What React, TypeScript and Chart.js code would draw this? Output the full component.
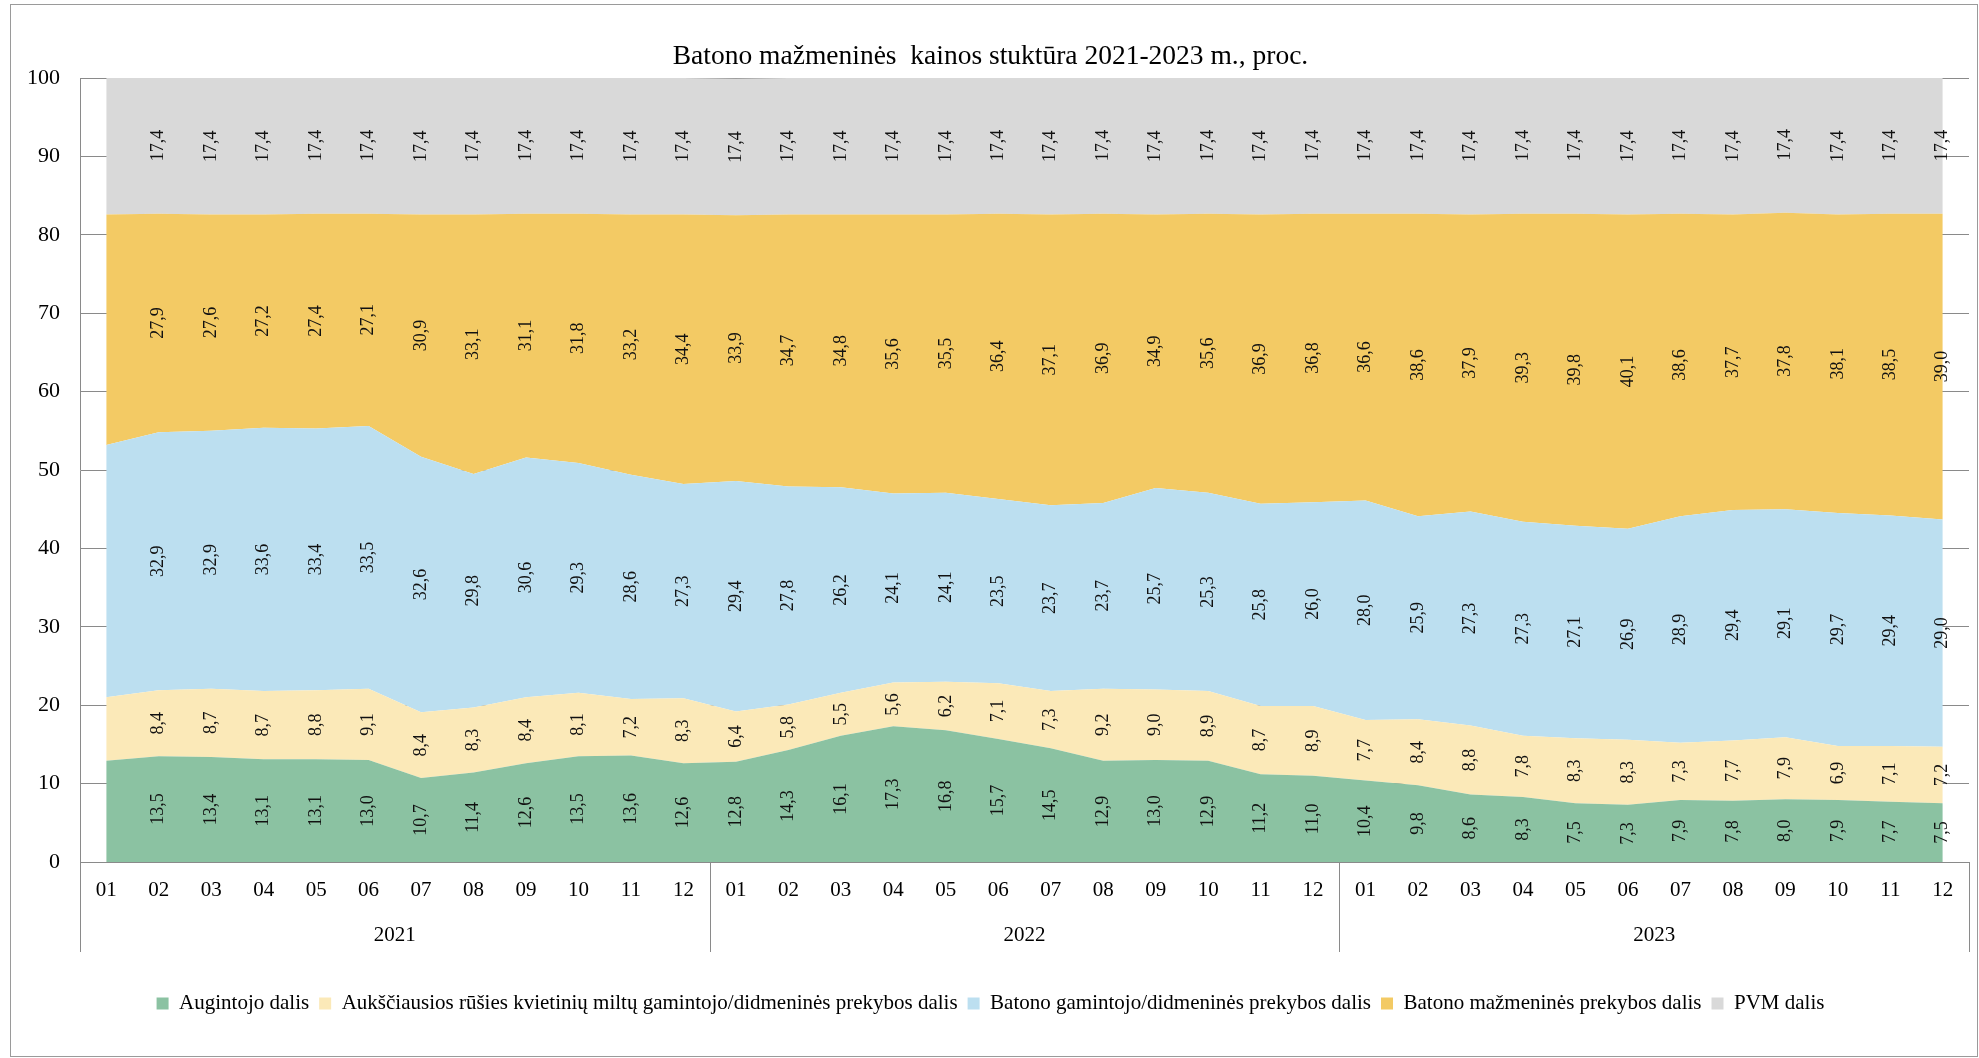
import React, { useEffect, useRef } from 'react';
import { Chart, registerables } from 'chart.js';

Chart.register(...registerables);

const months = [
  '01', '02', '03', '04', '05', '06', '07', '08', '09', '10', '11', '12',
  '01', '02', '03', '04', '05', '06', '07', '08', '09', '10', '11', '12',
  '01', '02', '03', '04', '05', '06', '07', '08', '09', '10', '11', '12',
];
const years = ['2021', '2022', '2023'];

const augintojo = [
  12.9, 13.5, 13.4, 13.1, 13.1, 13.0, 10.7, 11.4, 12.6, 13.5, 13.6, 12.6,
  12.8, 14.3, 16.1, 17.3, 16.8, 15.7, 14.5, 12.9, 13.0, 12.9, 11.2, 11.0,
  10.4, 9.8, 8.6, 8.3, 7.5, 7.3, 7.9, 7.8, 8.0, 7.9, 7.7, 7.5,
];
const miltu = [
  8.1, 8.4, 8.7, 8.7, 8.8, 9.1, 8.4, 8.3, 8.4, 8.1, 7.2, 8.3,
  6.4, 5.8, 5.5, 5.6, 6.2, 7.1, 7.3, 9.2, 9.0, 8.9, 8.7, 8.9,
  7.7, 8.4, 8.8, 7.8, 8.3, 8.3, 7.3, 7.7, 7.9, 6.9, 7.1, 7.2,
];
const gamintojo = [
  32.2, 32.9, 32.9, 33.6, 33.4, 33.5, 32.6, 29.8, 30.6, 29.3, 28.6, 27.3,
  29.4, 27.8, 26.2, 24.1, 24.1, 23.5, 23.7, 23.7, 25.7, 25.3, 25.8, 26.0,
  28.0, 25.9, 27.3, 27.3, 27.1, 26.9, 28.9, 29.4, 29.1, 29.7, 29.4, 29.0,
];
const mazmenines = [
  29.4, 27.9, 27.6, 27.2, 27.4, 27.1, 30.9, 33.1, 31.1, 31.8, 33.2, 34.4,
  33.9, 34.7, 34.8, 35.6, 35.5, 36.4, 37.1, 36.9, 34.9, 35.6, 36.9, 36.8,
  36.6, 38.6, 37.9, 39.3, 39.8, 40.1, 38.6, 37.7, 37.8, 38.1, 38.5, 39.0,
];
const pvm = [
  17.4, 17.4, 17.4, 17.4, 17.4, 17.4, 17.4, 17.4, 17.4, 17.4, 17.4, 17.4,
  17.4, 17.4, 17.4, 17.4, 17.4, 17.4, 17.4, 17.4, 17.4, 17.4, 17.4, 17.4,
  17.4, 17.4, 17.4, 17.4, 17.4, 17.4, 17.4, 17.4, 17.4, 17.4, 17.4, 17.4,
];
const yTicks = [0, 10, 20, 30, 40, 50, 60, 70, 80, 90, 100];

const seriesNames = [
  'Augintojo dalis',
  'Aukščiausios rūšies kvietinių miltų gamintojo/didmeninės prekybos dalis',
  'Batono gamintojo/didmeninės prekybos dalis',
  'Batono mažmeninės prekybos dalis',
  'PVM dalis',
];
const seriesColors = ['#8bc2a2', '#fbe9b8', '#bcdff0', '#f3ca64', '#d9d9d9'];
const TITLE = 'Batono mažmeninės  kainos stuktūra 2021-2023 m., proc.';

const FONT = "'Liberation Serif', 'Times New Roman', serif";
const AXIS_COLOR = '#8a8a8a';
const FIRST_LABELLED = 1;

const dataLabelsPlugin = {
  id: 'bandLabels',
  afterDatasetsDraw(chart: any) {
    const ctx = chart.ctx;
    const yScale = chart.scales.y;
    ctx.save();
    ctx.font = `18px ${FONT}`;
    ctx.fillStyle = '#111';
    ctx.textAlign = 'center';
    ctx.textBaseline = 'middle';
    chart.data.datasets.forEach((ds: any, di: number) => {
      const meta = chart.getDatasetMeta(di);
      const prev = di > 0 ? chart.getDatasetMeta(di - 1) : null;
      meta.data.forEach((pt: any, i: number) => {
        if (i < FIRST_LABELLED) return;
        const top = pt.y;
        const bottom = prev ? prev.data[i].y : yScale.getPixelForValue(0);
        const mid = (top + bottom) / 2;
        const txt = Number(ds.data[i]).toFixed(1).replace('.', ',');
        ctx.save();
        ctx.translate(pt.x, mid);
        ctx.rotate(-Math.PI / 2);
        ctx.fillText(txt, 0, 0);
        ctx.restore();
      });
    });
    ctx.restore();
  },
};

const yearAxisPlugin = {
  id: 'yearAxis',
  afterDraw(chart: any) {
    const ctx = chart.ctx;
    const xs = chart.scales.x;
    const area = chart.chartArea;
    const per = months.length / years.length;
    const step = xs.getPixelForValue(1) - xs.getPixelForValue(0);
    ctx.save();
    ctx.strokeStyle = AXIS_COLOR;
    ctx.lineWidth = 1;
    for (let g = 0; g <= years.length; g++) {
      const idx = Math.min(g * per, months.length - 1);
      const px = g * per < months.length
        ? xs.getPixelForValue(idx) - step / 2
        : xs.getPixelForValue(idx) + step / 2;
      const sx = Math.round(px) + 0.5;
      ctx.beginPath();
      ctx.moveTo(sx, area.bottom);
      ctx.lineTo(sx, area.bottom + 90);
      ctx.stroke();
    }
    ctx.font = `21px ${FONT}`;
    ctx.fillStyle = '#000';
    ctx.textAlign = 'center';
    ctx.textBaseline = 'middle';
    years.forEach((yr, g) => {
      const a = xs.getPixelForValue(g * per);
      const b = xs.getPixelForValue(g * per + per - 1);
      ctx.fillText(yr, (a + b) / 2, area.bottom + 73);
    });
    // outer frame
    ctx.strokeStyle = '#9a9a9a';
    ctx.strokeRect(10.5, 4.5, chart.width - 12, chart.height - 6);
    ctx.restore();
  },
};

export default function App() {
  const ref = useRef<HTMLCanvasElement | null>(null);

  useEffect(() => {
    document.body.style.margin = '0';
    document.body.style.overflow = 'hidden';
    const canvas = ref.current;
    if (!canvas) return;
    const values = [augintojo, miltu, gamintojo, mazmenines, pvm];
    const chart = new Chart(canvas, {
      type: 'line',
      data: {
        labels: months,
        datasets: values.map((v, i) => ({
          label: seriesNames[i],
          data: v,
          backgroundColor: seriesColors[i],
          borderColor: seriesColors[i],
          borderWidth: 0,
          pointRadius: 0,
          pointHoverRadius: 0,
          tension: 0,
          fill: i === 0 ? 'origin' : '-1',
        })),
      },
      options: {
        animation: false,
        responsive: false,
        devicePixelRatio: 1,
        layout: { padding: { top: 7, left: 12, right: 10, bottom: 34 } },
        interaction: { mode: undefined as any },
        plugins: {
          tooltip: { enabled: false },
          title: {
            display: true,
            text: TITLE,
            color: '#000',
            font: { family: FONT, size: 27.5, weight: 'normal' },
            padding: { top: 33, bottom: 5 },
          },
          legend: {
            display: true,
            position: 'bottom',
            labels: {
              color: '#000',
              font: { family: FONT, size: 21 },
              boxWidth: 12,
              boxHeight: 12,
              padding: 10,
            },
          },
        },
        scales: {
          x: {
            type: 'category',
            offset: true,
            grid: { display: false, drawTicks: false },
            border: { display: true, color: AXIS_COLOR, width: 1 },
            ticks: {
              color: '#000',
              font: { family: FONT, size: 21 },
              autoSkip: false,
              maxRotation: 0,
              minRotation: 0,
              padding: 16,
            },
            afterFit: (scale: any) => {
              scale.height = 121;
            },
          },
          y: {
            stacked: true,
            min: 0,
            max: 100,
            afterBuildTicks: (scale: any) => {
              scale.ticks = yTicks.map((v) => ({ value: v }));
            },
            grid: { display: true, color: AXIS_COLOR, drawTicks: false, lineWidth: 1 },
            border: { display: true, color: AXIS_COLOR, width: 1 },
            ticks: {
              color: '#000',
              font: { family: FONT, size: 22 },
              padding: 20,
            },
            afterFit: (scale: any) => {
              scale.width = 68;
            },
          },
        },
      },
      plugins: [dataLabelsPlugin, yearAxisPlugin],
    });
    return () => chart.destroy();
  }, []);

  return (
    <div style={{ width: 1979, height: 1058, background: '#fff' }}>
      <canvas ref={ref} width={1979} height={1058} style={{ display: 'block' }} />
    </div>
  );
}
